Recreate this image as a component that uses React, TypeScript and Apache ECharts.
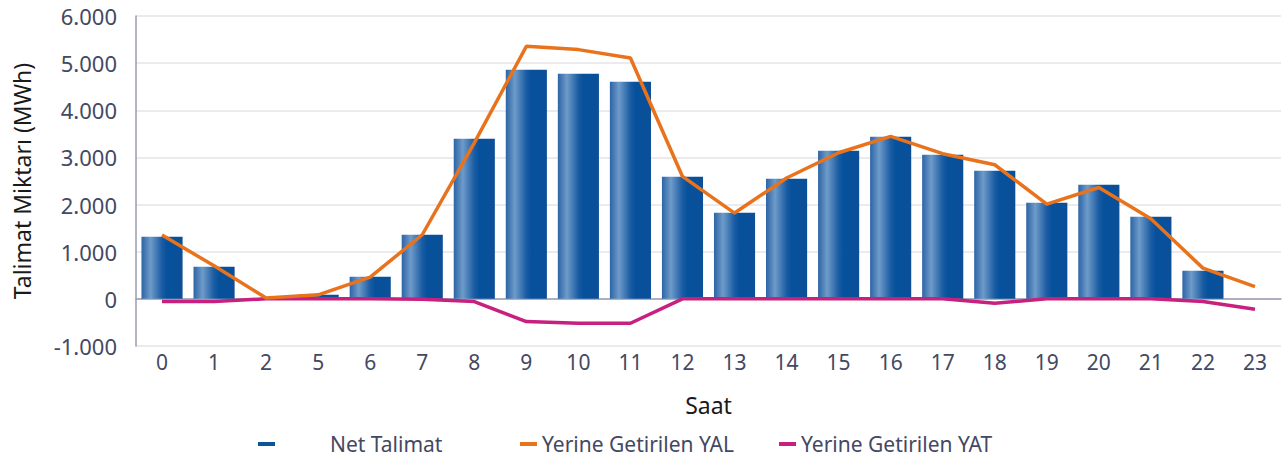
import React, { useEffect, useRef } from "react";
import * as echarts from "echarts";

const hours = ["0", "1", "2", "5", "6", "7", "8", "9", "10", "11", "12", "13", "14", "15", "16", "17", "18", "19", "20", "21", "22", "23"];
const netTalimat = [1316, 680, 0, 85, 467, 1359, 3397, 4862, 4777, 4607, 2590, 1826, 2548, 3142, 3439, 3057, 2718, 2038, 2420, 1741, 594, 0];
const yal = [1355, 700, 20, 85, 460, 1360, 3310, 5357, 5287, 5110, 2597, 1820, 2563, 3100, 3446, 3079, 2845, 2010, 2363, 1699, 652, 261];
const yat = [-57, -55, 0, 0, 0, -10, -57, -482, -517, -517, 0, 0, 0, 0, 0, 0, -92, 0, 0, 0, -57, -219];
const yTicks = { min: -1000, max: 6000, interval: 1000 };

const FONT = "Noto Sans";
const TICK_COLOR = "#434863";

function fmt(v: number): string {
  const s = Math.abs(v).toString().replace(/\B(?=(\d{3})+(?!\d))/g, ".");
  return (v < 0 ? "-" : "") + s;
}

export default function App() {
  const ref = useRef<HTMLDivElement>(null);
  useEffect(() => {
    if (!ref.current) return;
    const chart = echarts.init(ref.current, null, { renderer: "svg" });
    const barGrad = new echarts.graphic.LinearGradient(0, 0, 1, 0, [
      { offset: 0, color: "#2c64a6" },
      { offset: 0.22, color: "#6e9bc9" },
      { offset: 0.5, color: "#1a5ca3" },
      { offset: 0.62, color: "#06519c" },
      { offset: 1, color: "#0b4f98" },
    ]);
    const legendText = { fontFamily: FONT, fontSize: 21, color: TICK_COLOR, lineHeight: 24 };
    const legendBase = {
      top: 427, icon: "rect", itemWidth: 17, itemHeight: 4, padding: 5, selectedMode: false,
    };
    chart.setOption({
      animation: false,
      grid: { left: 136, right: 4, top: 16, bottom: 114, containLabel: false, outerBoundsMode: "none" },
      legend: [
        {
          ...legendBase,
          data: [{ name: "Net Talimat", itemStyle: { color: "#0b549e" } }],
          left: 253,
          textStyle: { ...legendText, padding: [0, 0, 0, 50] },
        },
        {
          ...legendBase,
          data: [{ name: "Yerine Getirilen YAL", itemStyle: { color: "#e8731c" } }],
          left: 515,
          textStyle: legendText,
        },
        {
          ...legendBase,
          data: [{ name: "Yerine Getirilen YAT", itemStyle: { color: "#c8207e" } }],
          left: 774,
          textStyle: legendText,
        },
      ],
      xAxis: {
        type: "category",
        data: hours,
        name: "Saat",
        nameLocation: "middle",
        nameGap: 47,
        nameTextStyle: { fontFamily: FONT, fontSize: 23, color: "#1a1a1a" },
        axisLine: { lineStyle: { color: "#9a9cb3", width: 1.5 } },
        axisTick: { show: false },
        axisLabel: { fontFamily: FONT, fontSize: 21, color: TICK_COLOR, margin: 5 },
      },
      yAxis: {
        type: "value",
        min: yTicks.min,
        max: yTicks.max,
        interval: yTicks.interval,
        name: "Talimat Miktarı (MWh)",
        nameLocation: "middle",
        nameGap: 103,
        nameTextStyle: { fontFamily: FONT, fontSize: 23, color: "#1a1a1a" },
        axisLine: { show: true, lineStyle: { color: "#9a9cb3", width: 1.5 } },
        axisTick: { show: false },
        splitLine: { lineStyle: { color: "#e3e3ea", width: 1.5 } },
        axisLabel: { fontFamily: FONT, fontSize: 22, color: TICK_COLOR, margin: 19, formatter: (v: number) => fmt(v) },
      },
      series: [
        {
          name: "Net Talimat",
          type: "bar",
          data: netTalimat,
          barCategoryGap: "21%",
          itemStyle: { color: barGrad },
          z: 1,
        },
        {
          name: "Yerine Getirilen YAL",
          type: "line",
          data: yal,
          symbol: "none",
          lineStyle: { color: "#e8731c", width: 3.5 },
          itemStyle: { color: "#e8731c" },
          z: 3,
        },
        {
          name: "Yerine Getirilen YAT",
          type: "line",
          data: yat,
          symbol: "none",
          lineStyle: { color: "#c8207e", width: 3.5 },
          itemStyle: { color: "#c8207e" },
          z: 2,
        },
      ],
    });
    return () => chart.dispose();
  }, []);
  return <div ref={ref} style={{ position: "absolute", left: 0, top: 0, width: 1285, height: 460 }} />;
}
